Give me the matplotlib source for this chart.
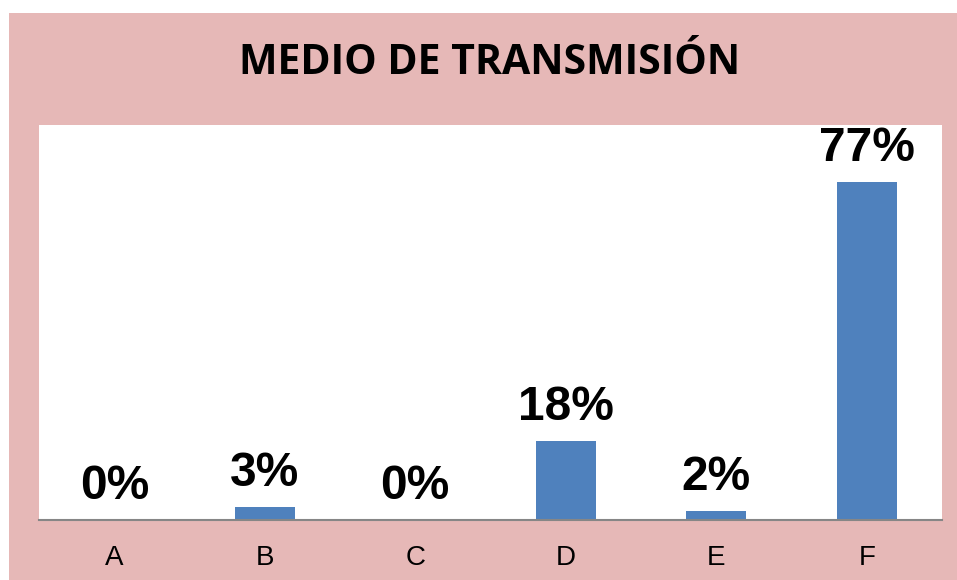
import matplotlib.pyplot as plt
from matplotlib.patches import Rectangle

categories = ["A", "B", "C", "D", "E", "F"]
values = [0, 3, 0, 18, 2, 77]
labels = ["0%", "3%", "0%", "18%", "2%", "77%"]

pink = "#E6B8B7"
bar_color = "#4F81BD"

fig = plt.figure(figsize=(9.57, 5.8), dpi=100)
fig.patch.set_facecolor("white")
# pink chart area (white strip on top and left)
fig.patches.append(Rectangle((9 / 957, 0), 1 - 9 / 957, (580 - 13) / 580,
                             transform=fig.transFigure, facecolor=pink,
                             edgecolor="none", zorder=-10))

ax = fig.add_axes([39 / 957, 60 / 580, 903 / 957, 395 / 580])
ax.set_facecolor("white")

x = range(len(categories))
ax.bar(x, values, width=0.4, color=bar_color, zorder=2)
ax.set_xlim(-0.5, len(categories) - 0.5)
ax.set_ylim(0, 90)

for xi, v, lab in zip(x, values, labels):
    ax.annotate(lab, (xi, v), xytext=(0, 8), textcoords="offset points",
                ha="center", va="bottom", fontsize=34.5, fontweight="bold",
                family="Liberation Sans", color="black", annotation_clip=False)

for s in ["top", "right", "left"]:
    ax.spines[s].set_visible(False)
ax.spines["bottom"].set_color("#868686")
ax.spines["bottom"].set_linewidth(1.5)
ax.set_yticks([])
ax.set_xticks(list(x))
ax.set_xticklabels(categories, fontsize=20, family="Liberation Sans")
ax.tick_params(axis="x", length=0, pad=18)

fig.text(490 / 957, 1 - 64 / 580, "MEDIO DE TRANSMISIÓN", ha="center", va="center",
         fontsize=29.5, fontweight="bold", family="Open Sans", color="black")

fig.savefig("out.png", dpi=100, facecolor=fig.get_facecolor())
